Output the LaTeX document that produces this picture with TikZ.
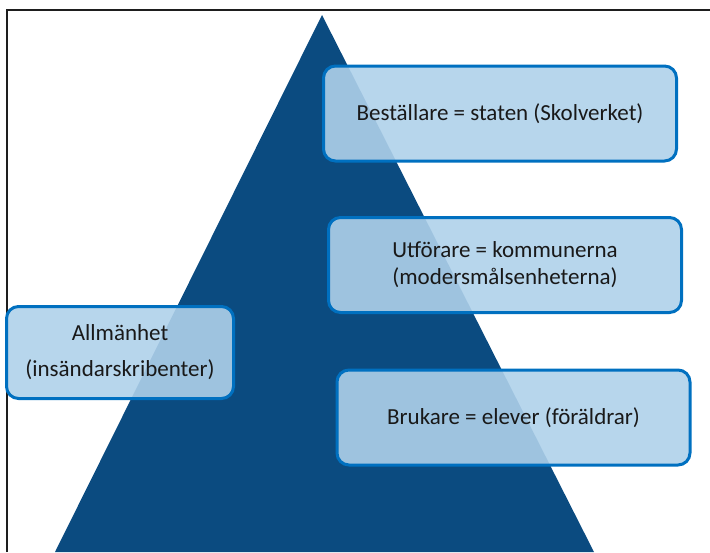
\documentclass[tikz,border=0pt]{standalone}
\usepackage{fontspec}
\setmainfont{Carlito}
\usepackage{xcolor}
\usepackage{tikz}
\usetikzlibrary{positioning}
\definecolor{marin}{RGB}{11,75,128}
\definecolor{ljusbla}{RGB}{175,209,234}
\definecolor{kant}{RGB}{0,112,192}
\definecolor{ram}{RGB}{30,30,30}
\definecolor{text}{RGB}{25,25,25}
\tikzset{
  roll/.style={draw=kant,line width=3pt,rounded corners=12pt,fill=ljusbla,fill opacity=0.9,text opacity=1,
    text=text,align=center,font=\fontsize{23}{27}\selectfont,minimum width=353pt,minimum height=95pt,inner sep=0pt}
}

\begin{document}
\begin{tikzpicture}[x=1pt,y=-1pt]
\useasboundingbox (0,0) rectangle (710,552);
% ram och pyramid
\draw[ram,line width=2.2pt] (7,552) -- (7,10) -- (710,10);
\fill[marin] (322,15) -- (594,552) -- (55,552) -- cycle;
% rollerna
\node[roll] (bestallare) at (500,113.5) {Beställare = staten (Skolverket)};
\node[roll] (utforare) at (505,265) {Utförare = kommunerna\\(modersmålsenheterna)};
\node[roll] (brukare) at (513.5,417.5) {Brukare = elever (föräldrar)};
\node[roll,minimum width=227pt,minimum height=92pt,font=\fontsize{23}{36}\selectfont] (allmanhet) at (120,352.5) {Allmänhet\\(insändarskribenter)};
\end{tikzpicture}
\end{document}
